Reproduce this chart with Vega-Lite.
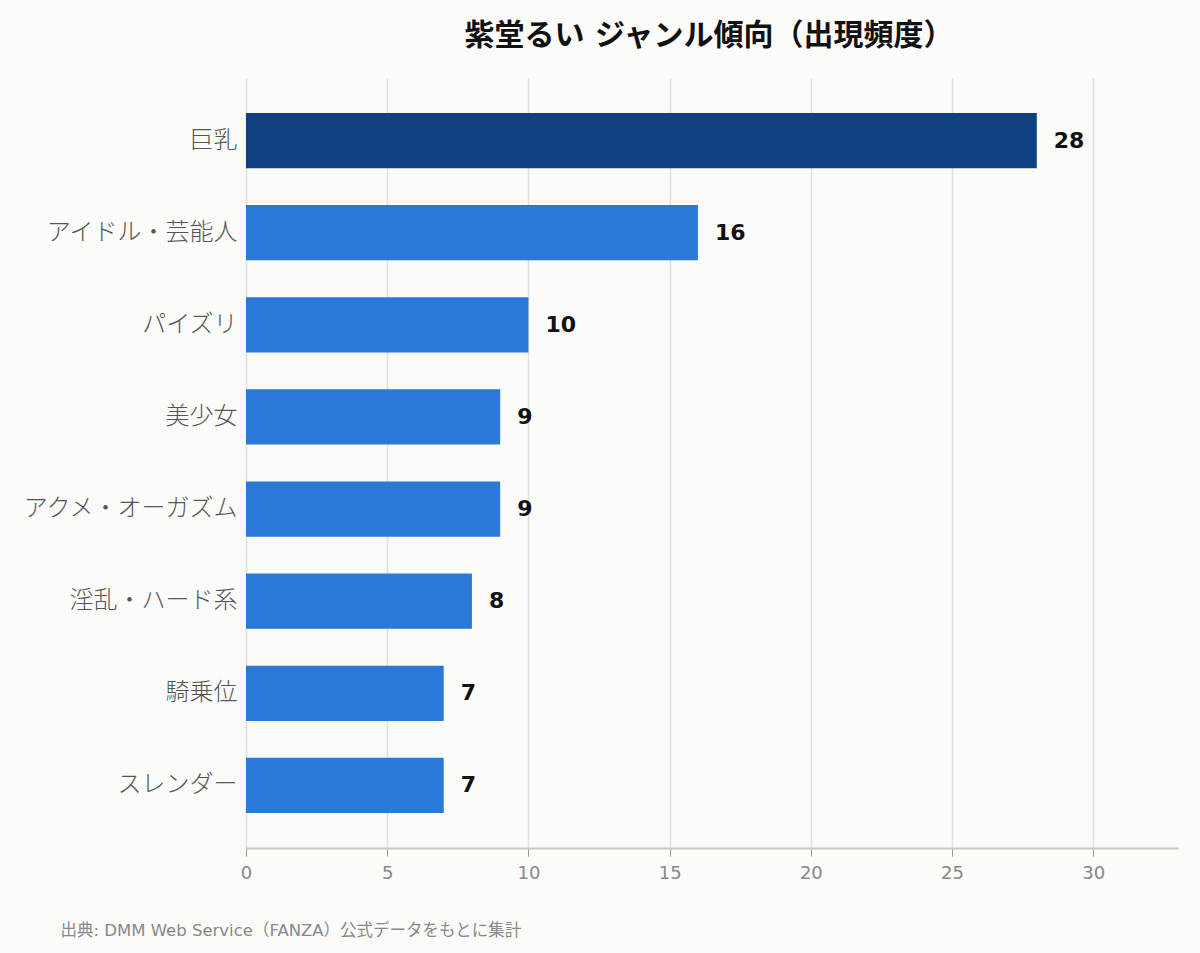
{
  "$schema": "https://vega.github.io/schema/vega-lite/v6.json",
  "autosize": "none",
  "width": 932,
  "height": 770,
  "padding": {"left": 246, "top": 78, "right": 22, "bottom": 105},
  "background": "#fbfbf9",
  "config": {
    "font": "DejaVu Sans, Noto Sans CJK JP",
    "view": {"stroke": null}
  },
  "title": {
    "text": "紫堂るい ジャンル傾向（出現頻度）",
    "fontSize": 30,
    "fontWeight": "bold",
    "color": "#111111",
    "anchor": "middle",
    "offset": 27,
    "dx": -3
  },
  "data": {
    "values": [
      {"genre": "巨乳", "count": 28, "top": "yes"},
      {"genre": "アイドル・芸能人", "count": 16, "top": "no"},
      {"genre": "パイズリ", "count": 10, "top": "no"},
      {"genre": "美少女", "count": 9, "top": "no"},
      {"genre": "アクメ・オーガズム", "count": 9, "top": "no"},
      {"genre": "淫乱・ハード系", "count": 8, "top": "no"},
      {"genre": "騎乗位", "count": 7, "top": "no"},
      {"genre": "スレンダー", "count": 7, "top": "no"}
    ]
  },
  "encoding": {
    "y": {
      "field": "genre",
      "type": "nominal",
      "sort": null,
      "title": null,
      "scale": {"paddingInner": 0.4, "paddingOuter": 0.38},
      "axis": {
        "ticks": false,
        "domain": false,
        "labelFontSize": 24,
        "labelFontWeight": 300,
        "labelColor": "#555555",
        "labelPadding": 9,
        "labelLimit": 300
      }
    },
    "x": {
      "field": "count",
      "type": "quantitative",
      "scale": {"domain": [0, 33], "nice": false},
      "title": "出典: DMM Web Service（FANZA）公式データをもとに集計",
      "axis": {
        "values": [0, 5, 10, 15, 20, 25, 30],
        "grid": true,
        "gridColor": "#e0e0dc",
        "gridWidth": 1.5,
        "domainColor": "#c8c8c0",
        "domainWidth": 2,
        "tickColor": "#999999",
        "tickSize": 8,
        "labelFlush": false,
        "labelFontSize": 18,
        "labelColor": "#888888",
        "labelPadding": 8,
        "titleFontSize": 16.5,
        "titleFontWeight": "normal",
        "titleColor": "#888888",
        "titleAnchor": "start",
        "titleAlign": "left",
        "titleBaseline": "alphabetic",
        "titleX": -186,
        "titleY": 87
      }
    }
  },
  "layer": [
    {
      "mark": {"type": "bar"},
      "encoding": {
        "color": {
          "field": "top",
          "type": "nominal",
          "scale": {"domain": ["yes", "no"], "range": ["#104080", "#2a79d6"]},
          "legend": null
        }
      }
    },
    {
      "mark": {
        "type": "text",
        "align": "left",
        "baseline": "middle",
        "dx": 17,
        "fontSize": 22,
        "fontWeight": "bold",
        "color": "#111111"
      },
      "encoding": {
        "text": {"field": "count", "type": "quantitative"}
      }
    }
  ]
}
